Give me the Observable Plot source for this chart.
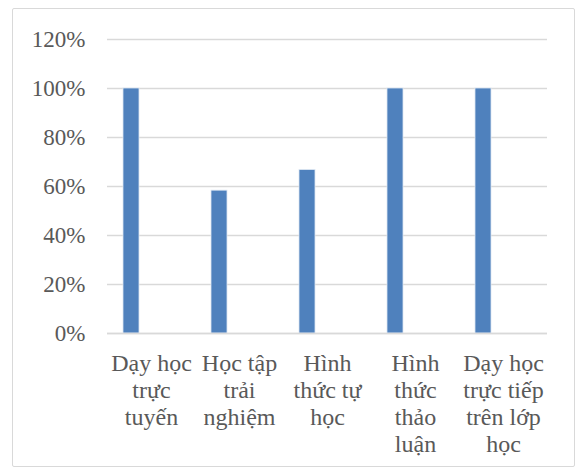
<!DOCTYPE html>
<html><head><meta charset="utf-8">
<script src="https://cdn.jsdelivr.net/npm/d3@7"></script>
<script src="https://cdn.jsdelivr.net/npm/@observablehq/plot@0.6"></script>
<style>
html,body{margin:0;padding:0;background:#fff;}
#wrap{position:relative;width:578px;height:471px;}
#border{position:absolute;left:12px;top:8px;width:563px;height:459px;border:1.5px solid #d9d9d9;border-radius:2px;box-sizing:border-box;pointer-events:none;}
</style></head>
<body>
<div id="wrap"><div id="border"></div></div>
<script>
const categories = [
  "Dạy học\ntrực\ntuyến",
  "Học tập\ntrải\nnghiệm",
  "Hình\nthức tự\nhọc",
  "Hình\nthức\nthảo\nluận",
  "Dạy học\ntrực tiếp\ntrên lớp\nhọc"
];
const values = [1.0, 0.583, 0.667, 1.0, 1.0];
const yTicks = [0, 0.2, 0.4, 0.6, 0.8, 1.0, 1.2];

const data = categories.map((c, i) => ({cat: c, v: values[i]}));
const font = "Liberation Serif";

const chart = Plot.plot({
  width: 578,
  height: 471,
  marginLeft: 107,
  marginRight: 31,
  marginTop: 39,
  marginBottom: 138,
  style: {fontSize: "23px", color: "#595959", background: "transparent", fontFamily: font},
  x: {domain: categories, padding: 0, label: null},
  y: {domain: [0, 1.2], label: null},
  marks: [
    Plot.gridY(yTicks, {stroke: "#d9d9d9", strokeOpacity: 1, strokeWidth: 1.5}),
    Plot.barY(data, {x: "cat", y: "v", fill: "#4f81bd", stroke: "#dce6f2", strokeWidth: 0.8, insetLeft: 16, insetRight: 56}),
    Plot.ruleY([0], {stroke: "#d9d9d9", strokeWidth: 1.5}),
    Plot.axisY(yTicks, {tickSize: 0, tickPadding: 22, tickFormat: d => Math.round(d * 100) + "%", fill: "#595959", fontSize: 23, fontFamily: font, label: null}),
    Plot.axisX({tickSize: 0, tickPadding: 18, fill: "#595959", fontSize: 24, fontFamily: font, lineHeight: 1.13, lineAnchor: "top", label: null})
  ]
});
document.getElementById("wrap").appendChild(chart);
chart.style.position = "absolute";
chart.style.left = "0";
chart.style.top = "0";
</script>
</body></html>
